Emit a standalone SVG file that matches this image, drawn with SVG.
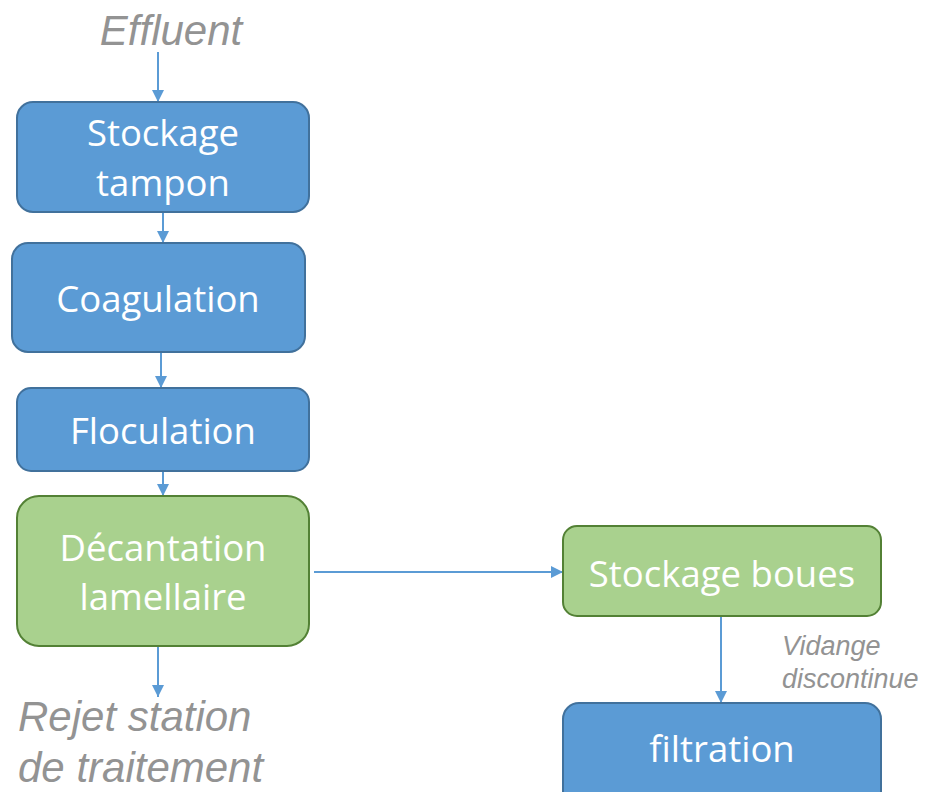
<svg xmlns="http://www.w3.org/2000/svg" width="927" height="792" viewBox="0 0 927 792">
<defs>
<marker id="ah" markerWidth="12" markerHeight="12" refX="12" refY="6" orient="auto" markerUnits="userSpaceOnUse">
<path d="M0,0 L12,6 L0,12 Z" fill="#5B9BD5"/>
</marker>
<style>
.blue{fill:#5B9BD5;stroke:#41719C;stroke-width:2}
.green{fill:#A9D18E;stroke:#538135;stroke-width:2}
.t{font-family:"Open Sans","Noto Sans",sans-serif;font-size:36.5px;fill:#fff;text-anchor:middle}
.g{font-family:"Liberation Sans",Arial,sans-serif;font-style:italic;fill:#939393}
.c{stroke:#5B9BD5;stroke-width:2;fill:none;marker-end:url(#ah)}
</style>
</defs>
<rect width="927" height="792" fill="#fff"/>
<g id="connectors">
<line class="c" x1="158" y1="52" x2="158" y2="102"/>
<line class="c" x1="163" y1="212" x2="163" y2="243"/>
<line class="c" x1="161" y1="352" x2="161" y2="388"/>
<line class="c" x1="163" y1="471" x2="163" y2="496"/>
<line class="c" x1="158" y1="646" x2="158" y2="697"/>
<line class="c" x1="314" y1="572" x2="563" y2="572"/>
<line class="c" x1="721" y1="616" x2="721" y2="703"/>
</g>
<g id="effluent"><text class="g" x="171" y="45" font-size="42" text-anchor="middle">Effluent</text></g>
<g id="stockage-tampon">
<rect class="blue" x="17" y="102" width="292" height="110" rx="16"/>
<text class="t" x="163" y="146">Stockage</text>
<text class="t" x="163" y="196">tampon</text>
</g>
<g id="coagulation">
<rect class="blue" x="12" y="243" width="293" height="109" rx="16"/>
<text class="t" x="158" y="312">Coagulation</text>
</g>
<g id="floculation">
<rect class="blue" x="17" y="388" width="292" height="83" rx="14"/>
<text class="t" x="163" y="444">Floculation</text>
</g>
<g id="decantation">
<rect class="green" x="17" y="496" width="292" height="150" rx="22"/>
<text class="t" x="163" y="561">Décantation</text>
<text class="t" x="163" y="610">lamellaire</text>
</g>
<g id="rejet">
<text class="g" x="18" y="731" font-size="42">Rejet station</text>
<text class="g" x="18" y="782" font-size="42">de traitement</text>
</g>
<g id="stockage-boues">
<rect class="green" x="563" y="526" width="318" height="90" rx="14"/>
<text class="t" x="722" y="587">Stockage boues</text>
</g>
<g id="vidange">
<text class="g" x="782" y="655" font-size="27">Vidange</text>
<text class="g" x="782" y="688" font-size="27">discontinue</text>
</g>
<g id="filtration">
<rect class="blue" x="563" y="703" width="318" height="110" rx="16"/>
<text class="t" x="722" y="762">filtration</text>
</g>
</svg>
